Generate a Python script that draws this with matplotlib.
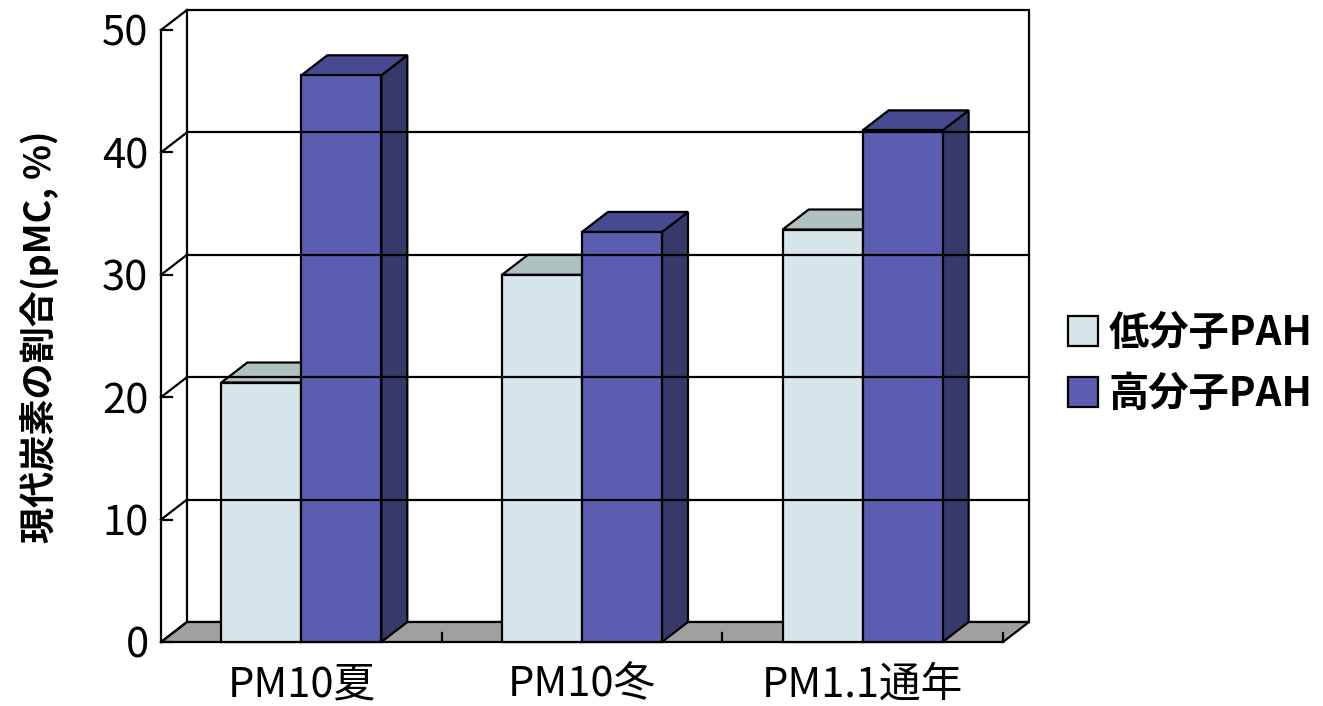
import matplotlib.pyplot as plt
from matplotlib.patches import Polygon, Patch

plt.rcParams['font.family'] = ['Noto Sans CJK JP', 'DejaVu Sans']

# data
categories = ['PM10夏', 'PM10冬', 'PM1.1通年']
low_pah = [21.2, 30.0, 33.7]
high_pah = [46.3, 33.5, 41.8]
series_names = ['低分子PAH', '高分子PAH']
y_ticks = [0, 10, 20, 30, 40, 50]

# colours (front, top, side)
low_cols = ('#d6e6ea', '#afc1c1', '#8fa0a0')
high_cols = ('#5a5db0', '#474a90', '#363a6b')

# 3D depth offset in data units
dx = 0.0926
dy = 1.634
lw = 1.6


def face(ax, pts, color):
    ax.add_patch(Polygon(pts, closed=True, facecolor=color, edgecolor='black',
                         linewidth=lw, joinstyle='miter', clip_on=False))


def bar3d(ax, x0, w, h, cols):
    front, top, side = cols
    face(ax, [(x0 + w, 0), (x0 + w + dx, dy), (x0 + w + dx, h + dy), (x0 + w, h)], side)
    face(ax, [(x0, h), (x0 + w, h), (x0 + w + dx, h + dy), (x0 + dx, h + dy)], top)
    face(ax, [(x0, 0), (x0 + w, 0), (x0 + w, h), (x0, h)], front)


fig = plt.figure(figsize=(13.23, 7.06), dpi=100)
W, H = 1323, 706
sx = (1003 - 161) / 3
sy = 612 / 50
ax = fig.add_axes([161 / W, (H - 642) / H, (3 + dx) * sx / W, (50 + dy) * sy / H])
ax.set_xlim(0, 3 + dx)
ax.set_ylim(0, 50 + dy)
for s in ax.spines.values():
    s.set_visible(False)
ax.patch.set_visible(False)

n = len(categories)
ymax = y_ticks[-1]

# back wall
face(ax, [(dx, dy), (n + dx, dy), (n + dx, ymax + dy), (dx, ymax + dy)], 'white')
for v in y_ticks[1:-1]:
    ax.plot([dx, n + dx], [v + dy, v + dy], color='black', lw=lw, clip_on=False)
# left wall
for v in y_ticks:
    ax.plot([0, dx], [v, v + dy], color='black', lw=lw, clip_on=False)
ax.plot([0, 0], [0, ymax], color='black', lw=lw, clip_on=False)
for v in y_ticks:
    ax.plot([0, 0.04], [v, v], color='black', lw=lw, clip_on=False)
# floor
face(ax, [(0, 0), (n, 0), (n + dx, dy), (dx, dy)], '#a0a0a0')
for i in range(1, n + 1):
    ax.plot([i, i], [0, 0.75], color='black', lw=lw, clip_on=False)

# bars
w = 0.285
for i in range(n):
    c = i + 0.5
    bar3d(ax, c - w, w, low_pah[i], low_cols)
    bar3d(ax, c, w, high_pah[i], high_cols)

ax.set_yticks(y_ticks)
ax.set_yticklabels([str(v) for v in y_ticks], fontsize=30)
ax.tick_params(axis='y', length=0, pad=9)
ax.set_xticks([i + 0.5 for i in range(n)])
ax.set_xticklabels(categories, fontsize=30)
ax.tick_params(axis='x', length=0, pad=16)

fig.text(40 / W, 1 - 337 / H, '現代炭素の割合(pMC, %)', rotation=90,
         ha='center', va='center', fontsize=26, fontweight='bold')

handles = [Patch(facecolor=low_cols[0], edgecolor='black', linewidth=lw),
           Patch(facecolor=high_cols[0], edgecolor='black', linewidth=lw)]
leg = fig.legend(handles, series_names, loc='center left',
                 bbox_to_anchor=(1068 / W, 1 - 364 / H), frameon=False,
                 prop={'size': 29, 'weight': 'bold'},
                 handlelength=0.75, handleheight=0.75,
                 handletextpad=0.25, labelspacing=0.5, borderpad=0,
                 borderaxespad=0)

fig.savefig('out.png', dpi=100)
